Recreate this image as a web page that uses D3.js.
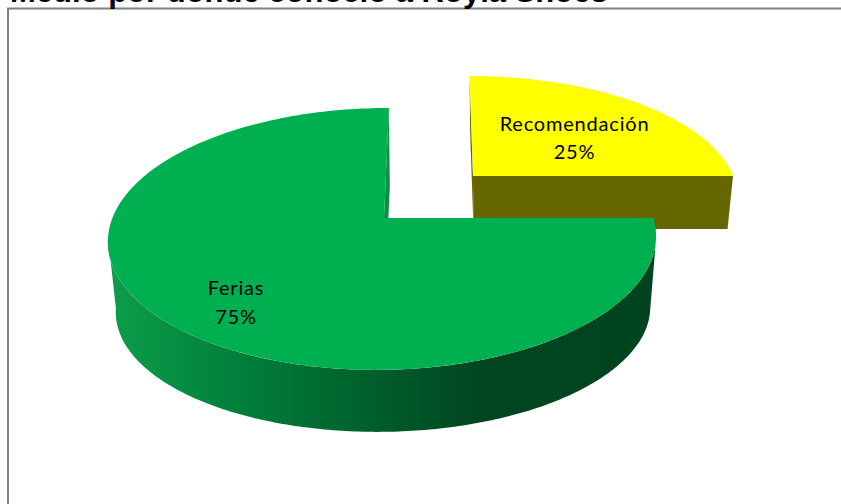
<!DOCTYPE html>
<html>
<head>
<meta charset="utf-8">
<script src="https://cdn.jsdelivr.net/npm/d3@7/dist/d3.min.js"></script>
<style>
  html, body { margin: 0; padding: 0; background: #fff; overflow: hidden; }
  svg { display: block; }
</style>
</head>
<body>
<svg id="chart" width="841" height="504"></svg>
<script>
const chartTitle = "Medio por donde conoció a Royla Shoes";
const categories = ["Recomendación", "Ferias"];
const shares = [25, 75];
const topColors = ["#FFFF00", "#00B050"];

const svg = d3.select("#chart");
const defs = svg.append("defs");

// Side-wall shading of the large slice runs left to right across the rim
const wallGradient = defs.append("linearGradient")
  .attr("id", "rimShade")
  .attr("gradientUnits", "userSpaceOnUse")
  .attr("x1", 108).attr("x2", 656).attr("y1", 0).attr("y2", 0);
[[0, "#0c9e4a"], [0.25, "#007d3a"], [0.5, "#005c2a"], [0.68, "#004520"], [1, "#00441f"]]
  .forEach(([o, c]) => wallGradient.append("stop").attr("offset", o).attr("stop-color", c));

// Frame of the chart area, open to the right and below
svg.append("path")
  .attr("d", d3.line()([[8, 504], [8, 8.5], [841, 8.5]]))
  .attr("fill", "none").attr("stroke", "#808080").attr("stroke-width", 2);

// Title sits against the top of the page, cut by the window edge
svg.append("text")
  .attr("x", 10).attr("y", 1.5)
  .attr("font-family", "Liberation Sans")
  .attr("font-weight", "bold")
  .attr("font-size", 31)
  .attr("fill", "#000")
  .text(chartTitle);

// Angles of each slice, clockwise from twelve o'clock
const arcs = d3.pie().sort(null).value(d => d)(shares);

// Perspective mapping of the unit disc onto the page.
// Each slice has its own frame because the small slice is pulled out.
const frames = [
  { ox: 473, oy: 176, rx: 260, ry: 116, p: 0.16, q: 0.0, shear: -4, drop: 53, shrink: 0.977, shrinkY: 0.977, dropX: 0.5 },
  { ox: 384, oy: 218, rx: 270.5, ry: 127.6, p: 0.16, q: 0.004, shear: 5.7, drop: 72, shrink: 0.975, shrinkY: 0.934, dropX: 1 }
];

function project(f, angle, radius, lower) {
  const x = radius * Math.sin(angle);
  const y = radius * Math.cos(angle);
  const den = 1 + f.p * y + f.q * x;
  const px = (f.rx * x + f.shear * y) / den;
  const py = -f.ry * y / den;
  return [
    f.ox + px * (lower ? f.shrink : 1) + (lower ? f.dropX : 0),
    f.oy + py * (lower ? f.shrinkY : 1) + (lower ? f.drop : 0)
  ];
}

const arcPoints = (f, a0, a1, lower) =>
  d3.range(0, 201).map(i => project(f, a0 + (a1 - a0) * i / 200, 1, lower));

const outline = d3.line();

arcs.forEach((arc, i) => {
  const f = frames[i];
  const g = svg.append("g");
  const apexTop = project(f, 0, 0, false);
  const apexLow = project(f, 0, 0, true);

  if (i === 0) {
    // Pulled-out slice: the two flat cut faces are what shows
    const far = project(f, arc.startAngle, 1, false);
    const farLow = project(f, arc.startAngle, 1, true);
    const end = project(f, arc.endAngle, 1, false);
    const endLow = project(f, arc.endAngle, 1, true);
    g.append("path").attr("d", outline([far, farLow, apexLow, apexTop]) + "Z").attr("fill", "#666600");
    g.append("path").attr("d", outline([apexTop, end, endLow, apexLow]) + "Z").attr("fill", "#666600");
  } else {
    // Large slice: far cut face, then the curved rim between its two silhouette angles
    const far = project(f, arc.endAngle, 1, false);
    const farLow = project(f, arc.endAngle, 1, true);
    g.append("path").attr("d", outline([far, farLow, apexLow, apexTop]) + "Z").attr("fill", "#0a8f45");
    const sweep = arc.endAngle - arc.startAngle;
    const rimStart = arc.startAngle + sweep * 0.04;
    const rimEnd = arc.startAngle + sweep * 0.635;
    const rim = arcPoints(f, rimStart, rimEnd, false)
      .concat(arcPoints(f, rimStart, rimEnd, true).reverse());
    g.append("path").attr("d", outline(rim) + "Z").attr("fill", "url(#rimShade)");
  }

  const face = [apexTop].concat(arcPoints(f, arc.startAngle, arc.endAngle, false));
  g.append("path").attr("d", outline(face) + "Z").attr("fill", topColors[i]);
});

// Data labels: category name over its percentage
const labelAnchors = [[574.5, 130.5], [236, 295]];
categories.forEach((name, i) => {
  const t = svg.append("text")
    .attr("text-anchor", "middle")
    .attr("font-family", "Lato")
    .attr("font-size", 20)
    .attr("letter-spacing", 0.8)
    .attr("fill", "#000");
  t.append("tspan").attr("x", labelAnchors[i][0]).attr("y", labelAnchors[i][1]).text(name);
  t.append("tspan").attr("x", labelAnchors[i][0]).attr("y", labelAnchors[i][1] + 28.5).text(shares[i] + "%");
});
</script>
</body>
</html>
